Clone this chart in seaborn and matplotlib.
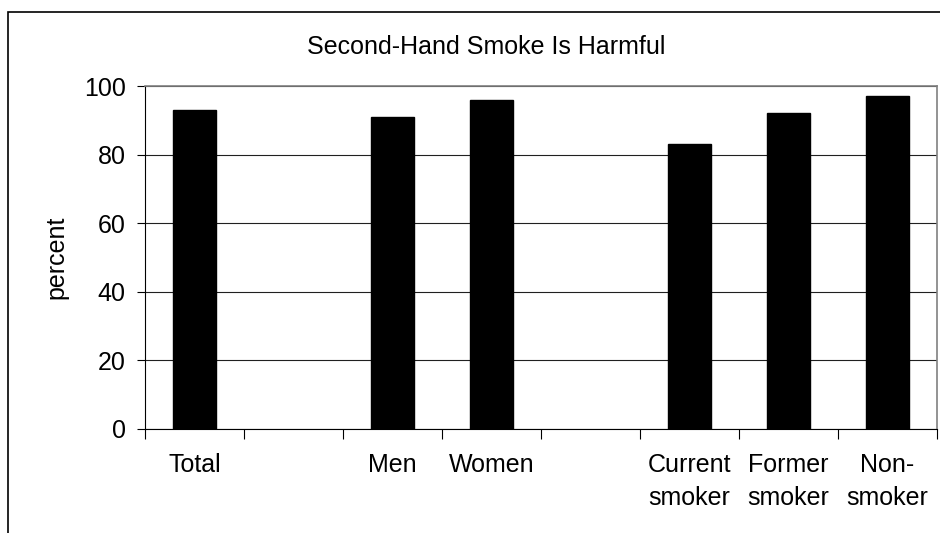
import matplotlib
matplotlib.use('Agg')
import numpy as np
import pandas as pd
import matplotlib.pyplot as plt
import seaborn as sns
from matplotlib.patches import Rectangle

# categories (blank slots keep the gaps between groups)
categories = ['Total', ' ', 'Men', 'Women', '  ', 'Current\nsmoker', 'Former\nsmoker', 'Non-\nsmoker']
percent = [93, np.nan, 91, 96, np.nan, 83, 92, 97]
yticks = [0, 20, 40, 60, 80, 100]

df = pd.DataFrame({'group': categories, 'percent': percent})

sns.set_style('white')
plt.rcParams['font.family'] = ['Liberation Sans', 'DejaVu Sans']
plt.rcParams['text.color'] = 'black'
plt.rcParams['axes.labelcolor'] = 'black'
plt.rcParams['xtick.color'] = 'black'
plt.rcParams['ytick.color'] = 'black'

fs = 18

fig = plt.figure(figsize=(9.4, 5.33), dpi=100)
ax = fig.add_axes([145 / 940, 1 - 429 / 533, (937 - 145) / 940, (429 - 86) / 533])

sns.barplot(data=df.dropna(), x='group', y='percent', order=categories,
            color='black', edgecolor='black', width=0.43, ax=ax)

ax.set_ylim(0, 100)
ax.set_xlim(-0.5, len(categories) - 0.5)
ax.set_yticks(yticks)
ax.set_yticklabels([str(t) for t in yticks], fontsize=fs)
ax.yaxis.grid(True, color='#202020', linewidth=0.8)
ax.set_axisbelow(True)

# Excel-style category ticks between the bars
ax.set_xticks(range(len(categories)))
ax.set_xticklabels(categories, fontsize=fs, linespacing=1.5, va='top')
ax.tick_params(axis='x', length=0, pad=17)
ax.set_xticks(np.arange(-0.5, len(categories)), minor=True)
ax.tick_params(axis='x', which='minor', direction='out', length=7, color='black', width=0.8, bottom=True)
ax.tick_params(axis='y', direction='out', length=6, color='black', width=0.8, left=True, pad=8)

ax.set_xlabel('')
ax.set_ylabel('percent', fontsize=fs, labelpad=11)

for side in ['left', 'bottom']:
    ax.spines[side].set_color('black')
    ax.spines[side].set_linewidth(0.8)
for side in ['top', 'right']:
    ax.spines[side].set_color('#808080')
    ax.spines[side].set_linewidth(1.2)

fig.text(486 / 940, 1 - 47 / 533, 'Second-Hand Smoke Is Harmful', ha='center', va='center', fontsize=fs)

# chart border (runs off the right and bottom edges)
fig.patches.append(Rectangle((8 / 940, -0.1), 1.2, 1 - 12 / 533 + 0.1, transform=fig.transFigure,
                             fill=False, edgecolor='black', linewidth=1.2))

fig.savefig('out.png', dpi=100)
